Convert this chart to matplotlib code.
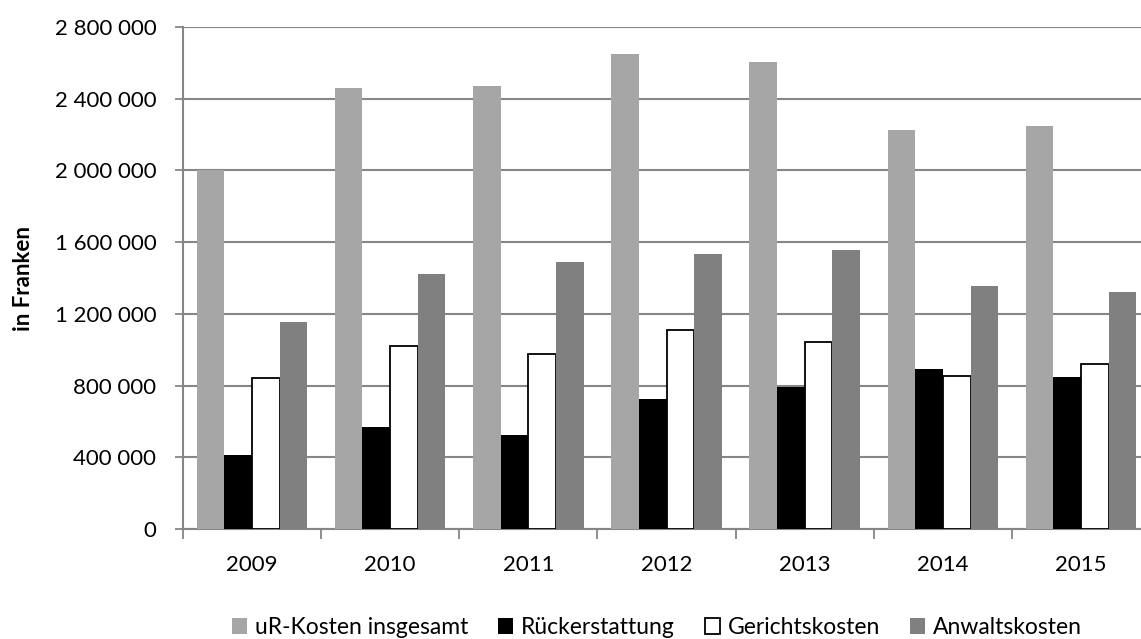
import matplotlib.pyplot as plt
from matplotlib.ticker import FuncFormatter, MultipleLocator
import numpy as np

plt.rcParams["font.family"] = ["Lato", "DejaVu Sans"]

years = ["2009", "2010", "2011", "2012", "2013", "2014", "2015"]
ur_kosten = [2004000, 2459000, 2470000, 2648000, 2604000, 2226000, 2248000]
rueckerstattung = [412000, 567000, 523000, 723000, 794000, 890000, 846000]
gerichtskosten = [842000, 1020000, 975000, 1109000, 1042000, 853000, 920000]
anwaltskosten = [1157000, 1424000, 1491000, 1535000, 1558000, 1357000, 1324000]

series = [
    ("uR-Kosten insgesamt", ur_kosten, "#a6a6a6", "none"),
    ("Rückerstattung", rueckerstattung, "#000000", "none"),
    ("Gerichtskosten", gerichtskosten, "#ffffff", "#000000"),
    ("Anwaltskosten", anwaltskosten, "#808080", "none"),
]

fig = plt.figure(figsize=(11.41, 6.39), dpi=100)
# plot area runs a bit past the right edge, like the cropped original
ax = fig.add_axes([0.1602, 0.1721, 0.8479, 0.7856])

x = np.arange(len(years))
w = 0.2
for k, (name, vals, col, edge) in enumerate(series):
    ax.bar(
        x + (k - 1.5) * w,
        vals,
        width=w,
        color=col,
        edgecolor=edge,
        linewidth=1.3 if edge != "none" else 0,
        label=name,
        zorder=3,
    )

ax.set_xlim(-0.5, len(years) - 0.5)
ax.set_ylim(0, 2800000)
ax.yaxis.set_major_locator(MultipleLocator(400000))
ax.yaxis.set_major_formatter(
    FuncFormatter(lambda v, p: f"{int(v):,}".replace(",", " "))
)
ax.set_xticks(np.arange(-0.5, len(years)), minor=False)
ax.set_xticklabels([])
ax.set_xticks(x, minor=True)
ax.set_xticklabels(years, minor=True)
ax.tick_params(axis="x", which="major", length=7, width=1.3, color="#868686")
ax.tick_params(axis="x", which="minor", length=0, pad=19, labelsize=16)
ax.tick_params(axis="y", length=6, width=1.3, color="#868686", pad=13, labelsize=16)

ax.grid(axis="y", color="#868686", linewidth=1.5, zorder=0)
for s in ["top", "right"]:
    ax.spines[s].set_visible(False)
for s in ["left", "bottom"]:
    ax.spines[s].set_color("#868686")
    ax.spines[s].set_linewidth(1.5)

ax.set_ylabel("in Franken", fontsize=16, fontweight="bold", labelpad=15)

ax.legend(
    loc="center",
    bbox_to_anchor=(0.49, -0.196),
    ncol=4,
    frameon=False,
    fontsize=16.5,
    handlelength=0.65,
    handleheight=0.65,
    handletextpad=0.35,
    columnspacing=1.3,
)

fig.savefig("out.png", dpi=100)
